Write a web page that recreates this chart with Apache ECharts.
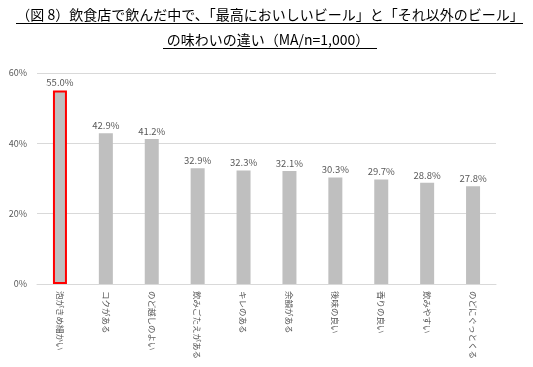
<!DOCTYPE html>
<html><head><meta charset="utf-8">
<script src="https://cdn.jsdelivr.net/npm/echarts@6/dist/echarts.min.js"></script>
<style>html,body{margin:0;padding:0;background:#fff}#c{width:533px;height:367px}</style>
</head><body><div id="c"></div>
<script>
const categories = ['泡がきめ細かい','コクがある','のど越しのよい','飲みごたえがある','キレのある','余韻がある','後味の良い','香りの良い','飲みやすい','のどにぐっとくる'];
const values = [55.0, 42.9, 41.2, 32.9, 32.3, 32.1, 30.3, 29.7, 28.8, 27.8];
const yTicks = [0, 20, 40, 60];
const titleLine1 = '（図 8）飲食店で飲んだ中で、「最高においしいビール」と「それ以外のビール」';
const titleLine2 = 'の味わいの違い（MA/n=1,000）';

const chart = echarts.init(document.getElementById('c'), null, {renderer:'canvas'});
const font = '"Noto Sans CJK JP", "Noto Sans", sans-serif';
chart.setOption({
  animation:false,
  backgroundColor:'#fff',
  graphic:[
    {type:'text', x:270, y:15, style:{text:titleLine1, font:'14px '+font, fill:'#000', textAlign:'center', textVerticalAlign:'middle'}},
    {type:'line', shape:{x1:16,y1:23.5,x2:523,y2:23.5}, style:{stroke:'#000', lineWidth:1}},
    {type:'text', x:268, y:40, style:{text:titleLine2, font:'14px '+font, fill:'#000', textAlign:'center', textVerticalAlign:'middle'}},
    {type:'line', shape:{x1:163,y1:48.5,x2:377,y2:48.5}, style:{stroke:'#000', lineWidth:1}}
  ],
  grid:{left:37, right:37, top:73, bottom:83, containLabel:false, outerBoundsMode:'none'},
  xAxis:{
    type:'category', data:categories,
    axisLine:{lineStyle:{color:'#d9d9d9'}},
    axisTick:{show:false},
    axisLabel:{rotate:-90, interval:0, color:'#595959', fontSize:8.5, fontFamily:font, margin:7}
  },
  yAxis:{
    type:'value', min:yTicks[0], max:yTicks[yTicks.length-1], interval:20,
    axisLine:{show:false}, axisTick:{show:false},
    axisLabel:{formatter:'{value}%', color:'#595959', fontSize:9, fontFamily:font, margin:10},
    splitLine:{lineStyle:{color:'#d9d9d9'}}
  },
  series:[{
    type:'bar', barWidth:14,
    data: values.map((v,i)=> i===0 ? {value:v, itemStyle:{color:'#bfbfbf', borderColor:'#ff0000', borderWidth:2}} : v),
    itemStyle:{color:'#bfbfbf'},
    label:{show:true, position:'top', distance:3, formatter:p=>p.value.toFixed(1)+'%', color:'#595959', fontSize:9.5, fontFamily:font}
  }]
});
</script></body></html>
